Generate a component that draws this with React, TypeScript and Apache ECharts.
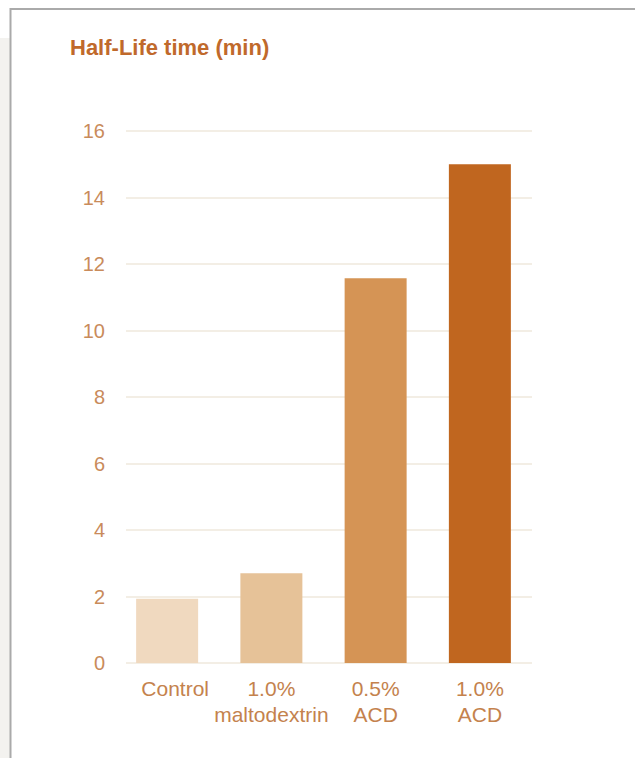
import React, { useEffect, useRef } from "react";
import * as echarts from "echarts";

const categories = ["Control", "1.0%\nmaltodextrin", "0.5%\nACD", "1.0%\nACD"];
const halfLifeValues = [1.93, 2.7, 11.57, 15.0];
const barColors = ["#f0d9bf", "#e6c298", "#d59455", "#c0661f"];
const yTicks = { min: 0, max: 16, interval: 2 };
const titleText = "Half-Life time (min)";

const FONT = "'Liberation Sans', Arial, Helvetica, sans-serif";

export default function App() {
  const ref = useRef<HTMLDivElement>(null);
  useEffect(() => {
    if (!ref.current) return;
    const chart = echarts.init(ref.current, undefined, { renderer: "svg" });
    chart.setOption({
      animation: false,
      backgroundColor: "#ffffff",
      title: {
        text: titleText,
        left: 65,
        top: 30,
        textStyle: {
          fontFamily: FONT,
          fontSize: 22,
          fontWeight: "bold",
          color: "#c0692b",
          lineHeight: 24,
        },
      },
      graphic: [
        { type: "rect", shape: { x: 0, y: 38, width: 10, height: 720 }, style: { fill: "#f3f2ef" }, silent: true },
        { type: "line", shape: { x1: 10, y1: 9, x2: 635, y2: 9 }, style: { stroke: "#aaaaaa", lineWidth: 2 }, silent: true },
        { type: "line", shape: { x1: 10.5, y1: 8, x2: 10.5, y2: 758 }, style: { stroke: "#aaaaaa", lineWidth: 2 }, silent: true },
      ],
      grid: [
        { left: 126, right: 103, top: 131, bottom: 95, containLabel: false, outerBoundsMode: "none" },
        { left: 115, right: 103, top: 131, bottom: 95, containLabel: false, outerBoundsMode: "none" },
      ],
      xAxis: [
        { type: "category", gridIndex: 0, data: categories, show: false },
        {
          type: "category",
          gridIndex: 1,
          data: categories,
          axisLine: { show: false },
          axisTick: { show: false },
          axisLabel: {
            interval: 0,
            margin: 12,
            fontFamily: FONT,
            fontSize: 21,
            lineHeight: 26,
            color: "#c4824d",
            formatter: (v: string) => (v === "Control" ? "{c|Control}" : v),
            rich: {
              c: { fontFamily: FONT, fontSize: 21, lineHeight: 26, color: "#c4824d", padding: [0, 0, 0, 16] },
            },
          },
        },
      ],
      yAxis: [
        {
          type: "value",
          gridIndex: 0,
          min: yTicks.min,
          max: yTicks.max,
          interval: yTicks.interval,
          axisLine: { show: false },
          axisTick: { show: false },
          axisLabel: { margin: 21, fontFamily: FONT, fontSize: 20, color: "#c98b5b" },
          splitLine: { lineStyle: { color: "#efe8dc", width: 1.5 } },
        },
        {
          type: "value",
          gridIndex: 1,
          min: yTicks.min,
          max: yTicks.max,
          interval: yTicks.interval,
          show: false,
          splitLine: { show: false },
        },
      ],
      series: [
        {
          type: "bar",
          xAxisIndex: 1,
          yAxisIndex: 1,
          barWidth: 62,
          data: halfLifeValues.map((v, i) => ({ value: v, itemStyle: { color: barColors[i] } })),
        },
      ],
    });
    return () => chart.dispose();
  }, []);
  return (
    <div style={{ position: "absolute", left: 0, top: 0, width: 635, height: 758 }}>
      <div ref={ref} style={{ width: 635, height: 758 }} />
    </div>
  );
}
